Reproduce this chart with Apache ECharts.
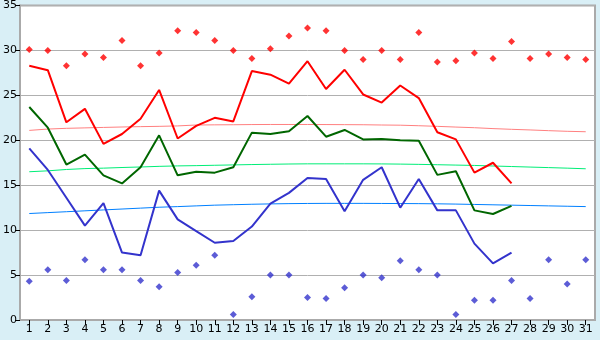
<!DOCTYPE html>
<html>
<head>
<meta charset="utf-8">
<script src="https://cdn.jsdelivr.net/npm/echarts@6/dist/echarts.min.js"></script>
<style>
  html, body { margin: 0; padding: 0; background: #d9eff6; }
  #chart { width: 600px; height: 340px; }
</style>
</head>
<body>
<div id="chart"></div>
<script>
const days = []
for (let d = 1; d <= 31; d++) days.push(String(d))

// 日平均 / 最高 / 最低
const redLine = [28.3, 27.8, 22.0, 23.5, 19.6, 20.7, 22.4, 25.6, 20.2, 21.6, 22.5, 22.1, 27.7, 27.3, 26.3, 28.8, 25.7, 27.85, 25.1, 24.2, 26.1, 24.7, 20.9, 20.1, 16.4, 17.5, 15.2]
const greenLine = [23.7, 21.4, 17.3, 18.4, 16.1, 15.2, 17.0, 20.55, 16.1, 16.5, 16.4, 17.0, 20.85, 20.7, 21.0, 22.7, 20.4, 21.15, 20.1, 20.15, 20.0, 19.95, 16.15, 16.55, 12.2, 11.8, 12.7]
const blueLine = [19.1, 16.7, 13.6, 10.5, 13.0, 7.5, 7.2, 14.4, 11.2, 9.9, 8.6, 8.8, 10.4, 12.95, 14.15, 15.8, 15.7, 12.1, 15.6, 17.0, 12.5, 15.7, 12.2, 12.2, 8.5, 6.3, 7.5]

const maxPoints = [30.1, 30.0, 28.3, 29.6, 29.2, 31.1, 28.3, 29.7, 32.2, 32.0, 31.1, 30.0, 29.1, 30.2, 31.6, 32.5, 32.2, 30.0, 29.0, 30.0, 29.0, 32.0, 28.7, 28.85, 29.7, 29.1, 31.0, 29.1, 29.6, 29.2, 29.0]
const minPoints = [4.3, 5.6, 4.4, 6.7, 5.6, 5.6, 4.4, 3.7, 5.3, 6.1, 7.2, 0.6, 2.6, 5.0, 5.0, 2.5, 2.4, 3.6, 5.0, 4.7, 6.6, 5.6, 5.0, 0.6, 2.2, 2.2, 4.4, 2.4, 6.7, 4.0, 6.7]

// 趋势线
const redTrend = [21.1, 21.25, 21.33, 21.38, 21.43, 21.48, 21.52, 21.55, 21.6, 21.7, 21.72, 21.73, 21.75, 21.76, 21.76, 21.76, 21.75, 21.74, 21.73, 21.7, 21.68, 21.62, 21.55, 21.47, 21.4, 21.3, 21.22, 21.15, 21.07, 21.0, 20.95]
const greenTrend = [16.5, 16.6, 16.75, 16.85, 16.9, 16.97, 17.03, 17.1, 17.15, 17.18, 17.22, 17.26, 17.3, 17.33, 17.36, 17.38, 17.38, 17.38, 17.38, 17.37, 17.35, 17.32, 17.28, 17.24, 17.2, 17.14, 17.08, 17.02, 16.96, 16.9, 16.83]
const blueTrend = [11.85, 11.95, 12.05, 12.15, 12.25, 12.35, 12.45, 12.55, 12.62, 12.7, 12.78, 12.83, 12.88, 12.92, 12.95, 12.97, 12.98, 12.98, 12.98, 12.97, 12.96, 12.95, 12.93, 12.9, 12.86, 12.82, 12.78, 12.74, 12.7, 12.66, 12.62]

const yTicks = [0, 5, 10, 15, 20, 25, 30, 35]

function lineSeries(data, color, width, z) {
  return {
    type: 'line',
    data: data,
    symbol: 'none',
    z: z,
    lineStyle: { color: color, width: width },
    animation: false
  }
}

function pointSeries(data, color) {
  return {
    type: 'scatter',
    data: data,
    symbol: 'diamond',
    symbolSize: 7,
    z: 5,
    itemStyle: { color: color },
    animation: false
  }
}

const options = {
  backgroundColor: '#d9eff6',
  textStyle: { fontFamily: 'DejaVu Sans' },
  grid: {
    left: 20,
    right: 5,
    top: 5,
    bottom: 20,
    show: true,
    backgroundColor: '#ffffff',
    borderColor: '#aaaaaa',
    borderWidth: 2
  },
  xAxis: {
    type: 'category',
    data: days,
    boundaryGap: true,
    axisLine: { lineStyle: { color: '#aaaaaa', width: 2 } },
    axisTick: { show: true, alignWithLabel: true, length: 5, lineStyle: { color: '#000' } },
    axisLabel: { interval: 0, color: '#000', fontSize: 11, margin: 4 },
    splitLine: { show: false }
  },
  yAxis: {
    type: 'value',
    min: yTicks[0],
    max: yTicks[yTicks.length - 1],
    interval: 5,
    axisLine: { show: true, lineStyle: { color: '#aaaaaa', width: 2 } },
    axisTick: { show: true, length: 5, lineStyle: { color: '#000' } },
    axisLabel: { color: '#000', fontSize: 11, margin: 3 },
    splitLine: { show: true, lineStyle: { color: '#b0b0b0', width: 1 } }
  },
  series: [
    lineSeries(redTrend, '#ff8080', 1, 2),
    lineSeries(greenTrend, '#00ee77', 1, 2),
    lineSeries(blueTrend, '#0080ff', 1, 2),
    lineSeries(redLine, '#ff0000', 2, 3),
    lineSeries(greenLine, '#006600', 2, 3),
    lineSeries(blueLine, '#3333cc', 2, 3),
    pointSeries(maxPoints, '#ff0000'),
    pointSeries(minPoints, '#3333cc')
  ]
}

const myChart = echarts.init(document.getElementById('chart'))
myChart.setOption(options)
</script>
</body>
</html>
